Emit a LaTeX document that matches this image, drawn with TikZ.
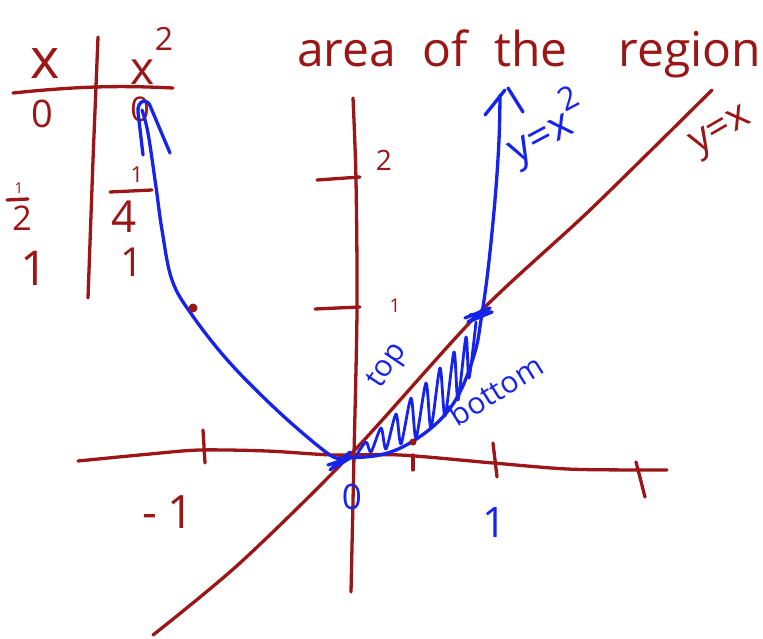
\documentclass[tikz,border=0pt]{standalone}
\usepackage{fontspec}
\setmainfont{Open Sans}
\begin{document}
\begin{tikzpicture}[x=1pt,y=-1pt,line cap=round,line join=round]
    % Define colors
    \definecolor{marker}{RGB}{155,22,22}
    \definecolor{pen}{RGB}{22,35,235}
    \tikzset{
        redline/.style={draw=marker, line width=3.3pt},
        blueline/.style={draw=pen, line width=3.3pt},
        redtext/.style={text=marker, inner sep=0pt},
        bluetext/.style={text=pen, inner sep=0pt}
    }
    \useasboundingbox (0,0) rectangle (763,639);
    \fill[white] (0,0) rectangle (763,639);

    % Heading
    \node[redtext, font=\fontsize{48}{56}\selectfont, anchor=base west] (heading) at (297,67)
        {area\hspace{26pt}of\hspace{27pt}the\hspace{51pt}region};

    % Table of values
    \draw[redline] (13,93) .. controls (90,85) and (130,86) .. (173,88);
    \draw[redline] (98,37) -- (93,160) -- (88,298);
    \node[redtext, font=\fontsize{56}{56}\selectfont] (xhead) at (45,64) {x};
    \node[redtext, font=\fontsize{46}{46}\selectfont] (xsqhead) at (152,56)
        {x\raisebox{0.75em}{\fontsize{32}{32}\selectfont 2}};
    \node[redtext, font=\fontsize{38}{38}\selectfont] (xzero) at (42,114) {0};
    \node[redtext, font=\fontsize{34}{34}\selectfont] (sqzero) at (140,109) {0};
    \node[redtext, font=\fontsize{15}{15}\selectfont] (halfnum) at (19,188) {1};
    \node[redtext, font=\fontsize{34}{34}\selectfont] (halfden) at (22,218) {2};
    \draw[redline] (7,200) -- (28,199);
    \node[redtext, font=\fontsize{22}{22}\selectfont] (quarternum) at (137,175) {1};
    \node[redtext, font=\fontsize{44}{44}\selectfont] (quarterden) at (124,217) {4};
    \draw[redline] (110,192) -- (152,190);
    \node[redtext, font=\fontsize{48}{48}\selectfont] (xone) at (34,268) {1};
    \node[redtext, font=\fontsize{40}{40}\selectfont] (sqone) at (132,262) {1};

    % Draw the main axes
    \draw[redline] plot[smooth] coordinates {(78,461) (150,454) (200,450) (267,451) (333,455)
        (400,455) (493,463) (567,469) (637,470) (667,470)};
    \draw[redline] plot[smooth] coordinates {(353,98) (356,180) (357,310) (354,455) (351,592)};

    % Tick marks
    \draw[redline] (203,430) -- (205,463);
    \draw[redline] (413,455) -- (413,470);
    \draw[redline] (493,443) -- (497,477);
    \draw[redline] (636,462) -- (645,497);
    \draw[redline] (317,180) -- (360,177);
    \draw[redline] (315,309) -- (360,307);

    % Axis labels
    \node[redtext, font=\fontsize{46}{46}\selectfont] (minusone) at (168,512) {-\hspace{10pt}1};
    \node[redtext, font=\fontsize{28}{28}\selectfont] (ytwo) at (384,160) {2};
    \node[redtext, font=\fontsize{19}{19}\selectfont] (yone) at (395,306) {1};
    \node[bluetext, font=\fontsize{35}{35}\selectfont] (xzerolbl) at (352,497) {0};
    \node[bluetext, font=\fontsize{42}{42}\selectfont] (xonelbl) at (495,523) {1};

    % Line y = x
    \draw[redline] plot[smooth] coordinates {(153,635) (240,563) (352,453) (478,314)
        (590,210) (712,90)};
    \node[redtext, font=\fontsize{40}{40}\selectfont, rotate=30] (linelbl) at (722,133) {y=x};

    % Parabola y = x^2
    \draw[blueline] plot[smooth, tension=0.6] coordinates {(345,458) (380,455) (410,443) (440,420)
        (460,392) (475,352) (481,320) (488,270) (495,200) (499,140) (500,95)};
    \draw[blueline] (485,115) -- (505,90);
    \draw[blueline] (508,88) -- (523,112);
    \draw[blueline] plot[smooth, tension=0.6] coordinates {(340,458) (327,453) (280,413) (230,363)
        (192,315) (172,280) (162,230) (156,187) (148,133) (142,110)};
    \draw[blueline] (143,155) -- (138,112) .. controls (137,100) and (148,97) .. (151,108) -- (170,153);
    \node[bluetext, font=\fontsize{42}{42}\selectfont, rotate=28] (curvelbl) at (546,128)
        {y=x\raisebox{0.55em}{\fontsize{32}{32}\selectfont 2}};

    % Shaded region between the curves
    \draw[blueline, line width=2.8pt] plot[smooth, tension=0.45] coordinates {(356,456) (366,442)
        (371,452) (381,428) (386,449) (396,414) (401,444) (411,398) (416,438) (426,383)
        (431,428) (440,368) (445,416) (454,352) (458,400) (466,337) (469,378) (476,322)};
    \draw[blueline] (465,318) -- (490,308) -- (468,322) -- (492,312) -- (470,315);
    \draw[blueline] (330,470) -- (350,452) -- (333,468) -- (352,457) -- (328,465);
    \node[bluetext, font=\fontsize{30}{30}\selectfont, rotate=56] (toplbl) at (388,366) {top};
    \node[bluetext, font=\fontsize{30}{30}\selectfont, rotate=32] (bottomlbl) at (496,390) {bottom};

    % Plotted points
    \fill[marker] (193,308) circle (4.5);
    \fill[marker] (413,442) circle (3.5);
\end{tikzpicture}
\end{document}
